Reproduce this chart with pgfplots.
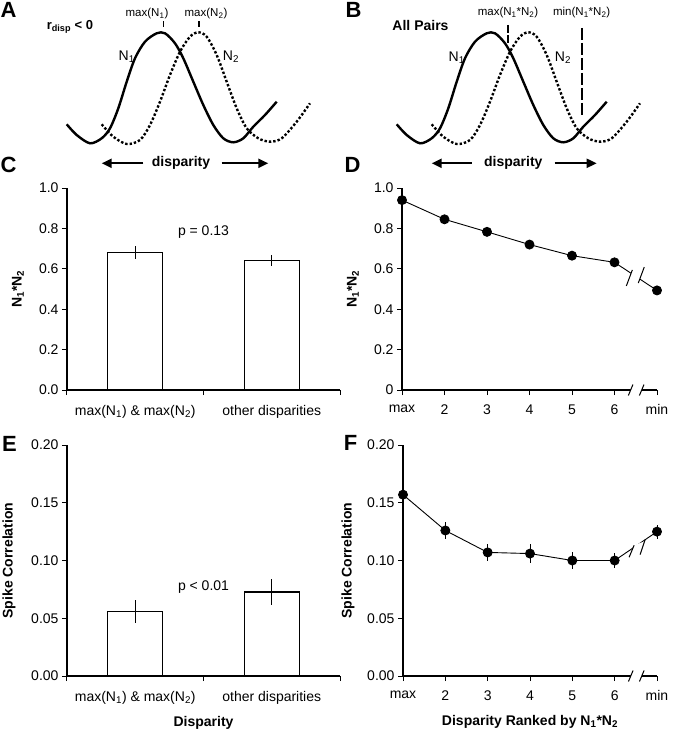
\documentclass[border=0pt]{standalone}
\usepackage{fontspec}
\setmainfont{Liberation Sans}
\usepackage{pgfplots}
\pgfplotsset{compat=1.18}
\usetikzlibrary{arrows.meta}
\newcommand{\fs}[1]{\fontsize{#1}{#1}\selectfont}
\pgfplotsset{
  panel/.style={scale only axis, axis x line=bottom, axis y line=left,
    axis line style={line width=1.1pt,-}, tick align=outside, major tick length=5pt,
    tick style={line width=1pt,black}, tick label style={font=\fs{14}},
    xticklabel style={yshift=-6pt},
    /pgf/number format/assume math mode=true, clip=false,
    every axis y label/.style={at={(axis description cs:0,0.5)},rotate=90,anchor=center,font=\bfseries\fs{14}},
    every axis x label/.style={at={(axis description cs:0.5,0)},anchor=center,font=\bfseries\fs{14}}},
  schem/.style={scale only axis, hide axis, xmin=0,xmax=335,ymin=-175,ymax=0,
    width=335pt,height=175pt, clip=false},
  n1/.style={black, line width=2.4pt, smooth, tension=0.5},
  n2/.style={black, line width=2.4pt, smooth, tension=0.5, dash pattern=on 2.4pt off 2pt},
}
\pgfplotstableread{
x y
66.7 -124.3
76.7 -135
90 -143.3
101.7 -138.3
110 -128.3
118.3 -108.3
126.7 -81.7
135 -58.3
145 -41.7
156.7 -33.3
165 -33.3
175 -43.3
183.3 -58.3
193.3 -81.7
203.3 -105
213.3 -125
223.3 -138.3
233.3 -142.3
243.3 -138.3
253.3 -126.7
265 -115
276.7 -101.7
}\curveA
\pgfplotstableread{
x y
101.7 -124.3
113.3 -136.7
126.7 -144
140 -140
150 -125
160 -101.7
170 -75
180 -51.7
190 -36.7
198.3 -32.3
206.7 -36.7
216.7 -55
226.7 -81.7
236.7 -108.3
246.7 -128.3
258.3 -138.3
270 -141.7
281.7 -138.3
296.7 -121.7
310 -103.3
}\curveB
\begin{document}
\begin{tikzpicture}
\path[use as bounding box] (0pt,0pt) rectangle (675pt,-733pt);

% ---------- Panel A ----------
\begin{axis}[schem, at={(0pt,-175pt)}, anchor=south west]
\addplot[n1] table {\curveA};
\addplot[n2] table {\curveB};
\node[font=\bfseries\fs{22}] at (axis cs:8.5,-10) {A};
\node[font=\bfseries\fs{13}] at (axis cs:70,-27) {r\textsubscript{disp} < 0};
\node[font=\fs{11.5}] at (axis cs:147,-13.3) {max(N\textsubscript{1})};
\node[font=\fs{11.5}] at (axis cs:206,-13.3) {max(N\textsubscript{2})};
\addplot[black, line width=1.6pt] coordinates {(163.3,-21.5) (163.3,-27)};
\addplot[black, line width=1.6pt] coordinates {(198.7,-21.5) (198.7,-27)};
\node[font=\fs{14}] at (axis cs:126.7,-57) {N\textsubscript{1}};
\node[font=\fs{14}] at (axis cs:231,-57) {N\textsubscript{2}};
\node[font=\bfseries\fs{14}] at (axis cs:181,-163.3) {disparity};
\draw[line width=2pt,-{Triangle[length=10pt,width=9pt]}] (axis cs:143.3,-163.3) -- (axis cs:101.7,-163.3);
\draw[line width=2pt,-{Triangle[length=10pt,width=9pt]}] (axis cs:221.7,-163.3) -- (axis cs:268.3,-163.3);
\end{axis}

% ---------- Panel B ----------
\begin{axis}[schem, at={(330pt,-175pt)}, anchor=south west]
\addplot[n1] table {\curveA};
\addplot[n2] table {\curveB};
\node[font=\bfseries\fs{22}] at (axis cs:23.5,-10) {B};
\node[font=\bfseries\fs{14}] at (axis cs:90.5,-25) {All Pairs};
\node[font=\fs{11.5}] at (axis cs:178,-12.3) {max(N\textsubscript{1}*N\textsubscript{2})};
\node[font=\fs{11.5}] at (axis cs:251.7,-12.3) {min(N\textsubscript{1}*N\textsubscript{2})};
\addplot[black, line width=1.8pt, dash pattern=on 8pt off 2pt] coordinates {(178.3,-25) (178.3,-43)};
\addplot[black, line width=1.8pt, dash pattern=on 12pt off 3pt] coordinates {(251.7,-28) (251.7,-117)};
\node[font=\fs{14}] at (axis cs:126.7,-58) {N\textsubscript{1}};
\node[font=\fs{14}] at (axis cs:233,-58) {N\textsubscript{2}};
\node[font=\bfseries\fs{14}] at (axis cs:183.3,-163.3) {disparity};
\draw[line width=2pt,-{Triangle[length=10pt,width=9pt]}] (axis cs:141.7,-163.3) -- (axis cs:101.7,-163.3);
\draw[line width=2pt,-{Triangle[length=10pt,width=9pt]}] (axis cs:224.7,-163.3) -- (axis cs:266.7,-163.3);
\end{axis}

% ---------- Panel C ----------
\begin{axis}[panel, at={(67pt,-390pt)}, anchor=south west, width=273pt, height=202pt,
  xmin=0, xmax=2, ymin=0, ymax=1,
  ytick={0,0.2,0.4,0.6,0.8,1.0},
  yticklabel style={/pgf/number format/.cd,fixed,fixed zerofill,precision=1},
  xtick={0,1,2}, xticklabels={},
  extra x ticks={0.5,1.5},
  extra x tick labels={max(N\textsubscript{1}) \& max(N\textsubscript{2}), other disparities},
  extra x tick style={major tick length=0pt, tick label style={yshift=-6pt}},
  ylabel={N\textsubscript{1}*N\textsubscript{2}}, ylabel style={yshift=49pt}]
\addplot[ybar, bar width=55pt, fill=white, draw=black, line width=1.1pt,
  error bars/.cd, y dir=both, y explicit, error mark=none,
  error bar style={line width=1pt}]
  coordinates {(0.5,0.68) +- (0,0.033) (1.5,0.64) +- (0,0.026)};
\node[font=\fs{14}] at (axis cs:1,0.78) {p = 0.13};
\end{axis}
\node[font=\bfseries\fs{22}] at (8.5pt,-165pt) {C};

% ---------- Panel D ----------
\begin{axis}[panel, at={(402pt,-390pt)}, anchor=south west, width=255pt, height=202pt,
  xmin=0, xmax=6, ymin=0, ymax=1,
  ytick={0,0.2,0.4,0.6,0.8,1.0}, yticklabels={0,0.2,0.4,0.6,0.8,1.0},
  xtick={0,1,2,3,4,5,6}, xticklabels={max,2,3,4,5,6,min},
  ylabel={N\textsubscript{1}*N\textsubscript{2}}, ylabel style={yshift=49pt}]
\addplot[black, line width=0.9pt, mark=*, mark size=4.5pt]
  coordinates {(0,0.94) (1,0.845) (2,0.783) (3,0.72) (4,0.665) (5,0.632) (6,0.493)};
\coordinate (dl1) at (axis cs:5.35,0.555);
\coordinate (dl2) at (axis cs:5.63,0.569);
\coordinate (da1) at (axis cs:5.38,0);
\coordinate (da2) at (axis cs:5.64,0);
\end{axis}
\fill[white] ([shift={(-3pt,-8pt)}]dl1) -- ([shift={(3pt,8pt)}]dl1) -- ([shift={(3pt,8pt)}]dl2) -- ([shift={(-3pt,-8pt)}]dl2) -- cycle;
\draw[line width=1pt] ([shift={(-3pt,-8pt)}]dl1) -- ([shift={(3pt,8pt)}]dl1);
\draw[line width=1pt] ([shift={(-3pt,-8pt)}]dl2) -- ([shift={(3pt,8pt)}]dl2);
\fill[white] ([shift={(-2.3pt,-5.5pt)}]da1) -- ([shift={(2.3pt,5.5pt)}]da1) -- ([shift={(2.3pt,5.5pt)}]da2) -- ([shift={(-2.3pt,-5.5pt)}]da2) -- cycle;
\draw[line width=1pt] ([shift={(-2.3pt,-5.5pt)}]da1) -- ([shift={(2.3pt,5.5pt)}]da1);
\draw[line width=1pt] ([shift={(-2.3pt,-5.5pt)}]da2) -- ([shift={(2.3pt,5.5pt)}]da2);
\node[font=\bfseries\fs{22}] at (352.5pt,-165pt) {D};

% ---------- Panel E ----------
\begin{axis}[panel, at={(67pt,-676pt)}, anchor=south west, width=273pt, height=231pt,
  xmin=0, xmax=2, ymin=0, ymax=0.2,
  ytick={0,0.05,0.10,0.15,0.20},
  yticklabel style={/pgf/number format/.cd,fixed,fixed zerofill,precision=2},
  xtick={0,1,2}, xticklabels={},
  extra x ticks={0.5,1.5},
  extra x tick labels={max(N\textsubscript{1}) \& max(N\textsubscript{2}), other disparities},
  extra x tick style={major tick length=0pt, tick label style={yshift=-6pt}},
  ylabel={Spike Correlation}, ylabel style={yshift=58pt},
  xlabel={Disparity}, xlabel style={yshift=-47pt}]
\addplot[ybar, bar width=55pt, fill=white, draw=black, line width=1.1pt,
  error bars/.cd, y dir=both, y explicit, error mark=none,
  error bar style={line width=1pt}]
  coordinates {(0.5,0.0558) +- (0,0.010) (1.5,0.0727) +- (0,0.011)};
\node[font=\fs{14}] at (axis cs:1,0.077) {p < 0.01};
\end{axis}
\node[font=\bfseries\fs{22}] at (9.5pt,-444pt) {E};

% ---------- Panel F ----------
\begin{axis}[panel, at={(403pt,-676pt)}, anchor=south west, width=254pt, height=231pt,
  xmin=0, xmax=6, ymin=0, ymax=0.2,
  ytick={0,0.05,0.10,0.15,0.20},
  yticklabel style={/pgf/number format/.cd,fixed,fixed zerofill,precision=2},
  xtick={0,1,2,3,4,5,6}, xticklabels={max,2,3,4,5,6,min},
  ylabel={Spike Correlation}, ylabel style={yshift=55pt},
  xlabel={Disparity Ranked by N\textsubscript{1}*N\textsubscript{2}}, xlabel style={yshift=-46pt}]
\addplot[black, line width=0.9pt, mark=*, mark size=4.5pt,
  error bars/.cd, y dir=both, y explicit, error mark=none,
  error bar style={line width=1pt}]
  coordinates {(0,0.157) +- (0,0.0043) (1,0.126) +- (0,0.007) (2,0.107) +- (0,0.0077)
   (3,0.106) +- (0,0.0084) (4,0.100) +- (0,0.0072) (5,0.100) +- (0,0.0065) (6,0.125) +- (0,0.006)};
\coordinate (fl1) at (axis cs:5.40,0.108);
\coordinate (fl2) at (axis cs:5.66,0.1116);
\coordinate (fa1) at (axis cs:5.38,0);
\coordinate (fa2) at (axis cs:5.64,0);
\end{axis}
\fill[white] ([shift={(-2.5pt,-6pt)}]fl1) -- ([shift={(2.5pt,6pt)}]fl1) -- ([shift={(2.5pt,6pt)}]fl2) -- ([shift={(-2.5pt,-6pt)}]fl2) -- cycle;
\draw[line width=1pt] ([shift={(-2.5pt,-6pt)}]fl1) -- ([shift={(2.5pt,6pt)}]fl1);
\draw[line width=1pt] ([shift={(-2.5pt,-7.5pt)}]fl2) -- ([shift={(2.5pt,7.5pt)}]fl2);
\fill[white] ([shift={(-2.3pt,-5.5pt)}]fa1) -- ([shift={(2.3pt,5.5pt)}]fa1) -- ([shift={(2.3pt,5.5pt)}]fa2) -- ([shift={(-2.3pt,-5.5pt)}]fa2) -- cycle;
\draw[line width=1pt] ([shift={(-2.3pt,-5.5pt)}]fa1) -- ([shift={(2.3pt,5.5pt)}]fa1);
\draw[line width=1pt] ([shift={(-2.3pt,-5.5pt)}]fa2) -- ([shift={(2.3pt,5.5pt)}]fa2);
\node[font=\bfseries\fs{22}] at (350.5pt,-443pt) {F};
\end{tikzpicture}
\end{document}
